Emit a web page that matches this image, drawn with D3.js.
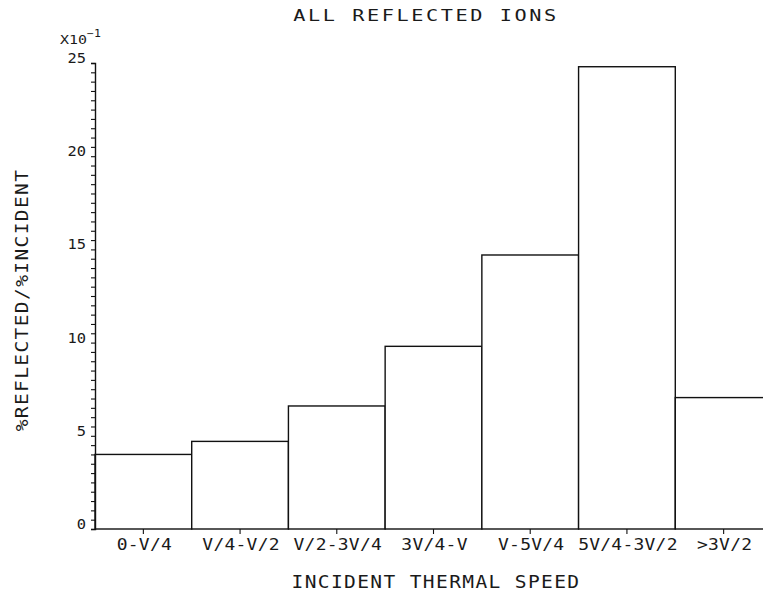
<!DOCTYPE html>
<html>
<head>
<meta charset="utf-8">
<script src="https://cdn.jsdelivr.net/npm/d3@7"></script>
<style>
  body { margin: 0; background: #fff; }
  svg text { font-family: "DejaVu Sans Mono", monospace; fill: #1a1a1a; }
</style>
</head>
<body>
<div id="chart"></div>
<script>
// Histogram: reflected / incident ratio by incident thermal speed bin

// data
var speedBins = ["0-V/4", "V/4-V/2", "V/2-3V/4", "3V/4-V", "V-5V/4", "5V/4-3V/2", ">3V/2"];
var ratioValues = [4.0, 4.7, 6.6, 9.8, 14.7, 24.8, 7.05];   // in units of 10^-1
var yTicks = [0, 5, 10, 15, 20, 25];

// size
var svgWidth = 763;
var svgHeight = 591;

var margin = { top: 63, left: 95, bottom: 62 };
var plotRight = 772;   // last bar runs off the page, as in the original
var height = svgHeight - margin.top - margin.bottom;

var svg = d3.select("#chart")
  .append("svg")
  .attr("width", svgWidth)
  .attr("height", svgHeight);

// plotter lettering is wide and squat, so stretch the mono font sideways
function wideText(parent, x, y, sx, rotate) {
  var t = `translate(${x}, ${y})` + (rotate ? ` rotate(${rotate})` : "") + ` scale(${sx}, 1)`;
  return parent.append("text").attr("transform", t);
}

// scales
var xScale = d3.scaleBand()
  .domain(speedBins)
  .range([margin.left, plotRight])
  .padding(0);

var yScale = d3.scaleLinear()
  .domain([0, 25])
  .range([margin.top + height, margin.top]);

// bars
svg.append("g")
  .selectAll("rect")
  .data(ratioValues)
  .enter()
  .append("rect")
  .attr("x", (d, i) => xScale(speedBins[i]))
  .attr("y", d => yScale(d))
  .attr("width", xScale.bandwidth())
  .attr("height", d => yScale(0) - yScale(d))
  .attr("fill", "#fff")
  .attr("stroke", "#111")
  .attr("stroke-width", 1.4);

// y axis, minor ticks every 0.5
var leftAxis = d3.axisLeft(yScale)
  .tickValues(d3.range(0, 25.01, 0.5))
  .tickSize(4)
  .tickFormat("");

var yAxis = svg.append("g")
  .attr("transform", `translate(${margin.left}, 0)`)
  .call(leftAxis);
yAxis.select(".domain").attr("stroke", "#111").attr("stroke-width", 1.4);
yAxis.selectAll(".tick line").attr("stroke", "#111").attr("stroke-width", 1.1);

// y tick labels
var yLabels = svg.append("g");
yTicks.forEach(function(d) {
  wideText(yLabels, margin.left - 9, yScale(d), 1.1)
    .attr("text-anchor", "end")
    .style("font-size", "14px")
    .text(d);
});

// exponent label
var expLabel = wideText(svg, 60, 44, 1.15)
  .style("font-size", "13px")
  .text("X10");
expLabel.append("tspan")
  .attr("dy", -7)
  .style("font-size", "10px")
  .text("\u2212" + "1");

// x axis ticks at bin centres
var bottomAxis = d3.axisBottom(xScale)
  .tickSize(5)
  .tickSizeOuter(0)
  .tickFormat("");

var xAxis = svg.append("g")
  .attr("transform", `translate(0, ${yScale(0)})`)
  .call(bottomAxis);
xAxis.select(".domain").remove();
xAxis.selectAll(".tick line").attr("stroke", "#111").attr("stroke-width", 1.1);

// x tick labels
var xLabels = svg.append("g");
speedBins.forEach(function(d) {
  wideText(xLabels, xScale(d) + xScale.bandwidth() / 2 + 1, 550, 1.2)
    .attr("text-anchor", "middle")
    .style("font-size", "15px")
    .style("letter-spacing", "0.2px")
    .text(d);
});

// title
wideText(svg, 426, 21, 1.35)
  .attr("text-anchor", "middle")
  .style("font-size", "15px")
  .style("letter-spacing", "1.9px")
  .text("ALL REFLECTED IONS");

// x axis label
wideText(svg, 436, 588, 1.15)
  .attr("text-anchor", "middle")
  .style("font-size", "17px")
  .style("letter-spacing", "1.2px")
  .text("INCIDENT THERMAL SPEED");

// y axis label
wideText(svg, 28, 300, 1.15, -90)
  .attr("text-anchor", "middle")
  .style("font-size", "17px")
  .style("letter-spacing", "1.2px")
  .text("%REFLECTED/%INCIDENT");
</script>
</body>
</html>
